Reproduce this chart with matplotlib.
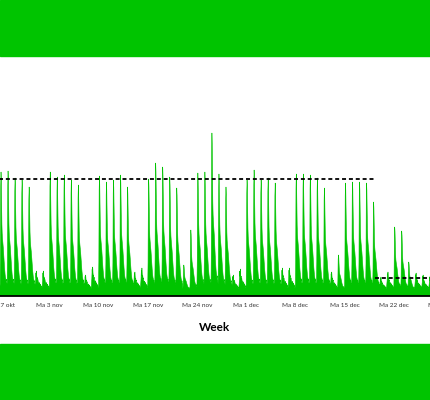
import pandas as pd
import matplotlib
matplotlib.use('Agg')
import matplotlib.pyplot as plt
import matplotlib.dates as mdates
from matplotlib.patches import Rectangle

# daily peak value, one per day from zo 26 okt 2025 to zo 28 dec 2025
first_day = '2025-10-26'
daily_peaks = [
    24,
    124, 125, 118, 116, 109, 25, 25,
    124, 119, 121, 116, 111, 21, 29,
    120, 114, 116, 121, 109, 24, 28,
    117, 133, 129, 119, 108, 31, 66,
    123, 124, 163, 122, 109, 21, 27,
    116, 126, 116, 118, 113, 28, 28,
    122, 122, 121, 118, 108, 24, 41,
    113, 114, 114, 113, 94, 19, 24,
    69, 65, 34, 23, 21, 20, 20,
]
base_level = 6

# hourly shape of a busy day and of a quiet day (fraction of the day's peak)
busy_profile = [0.05, 0.25, 0.88, 1.00, 0.93, 0.74, 0.56, 0.48, 0.44, 0.41,
                0.38, 0.35, 0.31, 0.27, 0.23, 0.19, 0.16, 0.13, 0.11, 0.10,
                0.08, 0.09, 0.06, 0.06]
quiet_profile = [0.30, 0.50, 0.90, 0.65, 1.00, 0.75, 0.60, 0.65, 0.50, 0.55,
                 0.45, 0.40, 0.35, 0.40, 0.30, 0.35, 0.25, 0.30, 0.20, 0.25,
                 0.15, 0.20, 0.12, 0.12]

# average levels (dashed lines)
avg_levels = [117, 18]
avg_switch = '2025-12-19 08:00'
avg_end = '2025-12-30'

tick_dates = ['2025-10-27', '2025-11-03', '2025-11-10', '2025-11-17', '2025-11-24',
              '2025-12-01', '2025-12-08', '2025-12-15', '2025-12-22', '2025-12-29']
tick_labels = ['Ma 27 okt', 'Ma 3 nov', 'Ma 10 nov', 'Ma 17 nov', 'Ma 24 nov',
               'Ma 1 dec', 'Ma 8 dec', 'Ma 15 dec', 'Ma 22 dec', 'Ma 29 dec']

GREEN = '#00c400'

# build hourly series
times = pd.date_range(first_day, periods=len(daily_peaks) * 24, freq='h')
values = []
for peak in daily_peaks:
    if peak > 30:
        profile = busy_profile
    else:
        profile = quiet_profile
    for frac in profile:
        values.append(base_level + (peak - base_level) * frac)

fig = plt.figure(figsize=(4.3, 4.0), dpi=100)
fig.patch.set_facecolor('white')

# green bands top and bottom
fig.patches.append(Rectangle((0, (400 - 56) / 400), 1, 56 / 400,
                             transform=fig.transFigure, color=GREEN, zorder=0))
fig.patches.append(Rectangle((0, 0), 1, 56.5 / 400,
                             transform=fig.transFigure, color=GREEN, zorder=0))

# axes is wider than the figure, so the chart looks cut off at the sides
ax = fig.add_axes([-20 / 430, 104 / 400, 470 / 430, 240 / 400])
ax.set_facecolor('none')

ax.fill_between(times, 0, values, color=GREEN, linewidth=0.4, edgecolor=GREEN, zorder=2)

start = pd.Timestamp('2025-10-20')
ax.plot([start, pd.Timestamp(avg_switch)], [avg_levels[0], avg_levels[0]],
        color='black', linestyle='--', linewidth=1.3, dashes=(2.2, 1.6), zorder=3)
ax.plot([pd.Timestamp(avg_switch), pd.Timestamp(avg_end)], [avg_levels[1], avg_levels[1]],
        color='black', linestyle='--', linewidth=1.3, dashes=(2.2, 1.6), zorder=3)

dec1 = pd.Timestamp('2025-12-01')
px_per_day = 7.03
left = dec1 + pd.Timedelta(days=(-20 - 246.2) / px_per_day)
right = dec1 + pd.Timedelta(days=(450 - 246.2) / px_per_day)
ax.set_xlim(left, right)
ax.set_ylim(0, 240)

ax.set_xticks([mdates.date2num(pd.Timestamp(d)) for d in tick_dates])
ax.set_xticklabels(tick_labels, fontsize=4.6, color='#333333', fontfamily='Lato')
ax.tick_params(axis='x', length=0, pad=5)
ax.set_yticks([])

for side in ['top', 'left', 'right']:
    ax.spines[side].set_visible(False)
ax.spines['bottom'].set_color('black')
ax.spines['bottom'].set_linewidth(1.3)
ax.spines['bottom'].set_zorder(4)

ax.set_xlabel('Week', fontsize=8.5, fontweight='bold', fontfamily='Lato', labelpad=10)

fig.savefig('out.png', dpi=100)
